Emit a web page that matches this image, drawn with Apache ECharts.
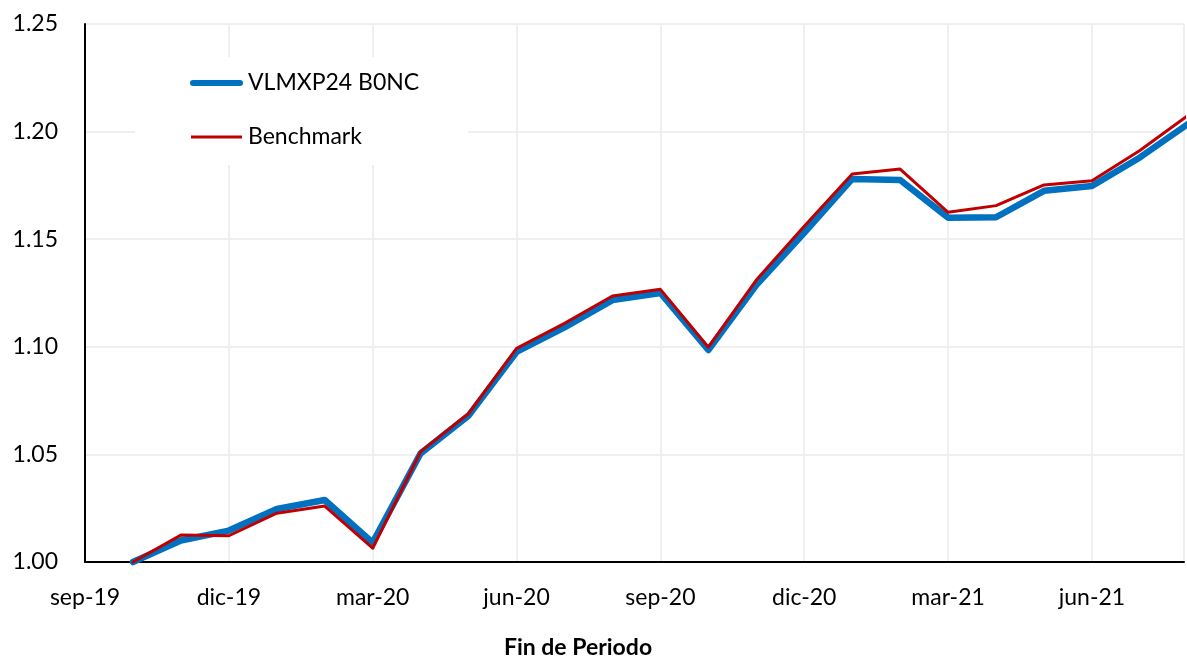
<!DOCTYPE html>
<html>
<head>
<meta charset="utf-8">
<script src="https://cdn.jsdelivr.net/npm/echarts@6/dist/echarts.min.js"></script>
<style>
  html, body { margin: 0; padding: 0; background: #fff; }
  #chart { width: 1187px; height: 659px; }
</style>
</head>
<body>
<div id="chart"></div>
<script>
// Month labels (index 0 = sep-19), values at month end
const months = ['sep-19','oct-19','nov-19','dic-19','ene-20','feb-20','mar-20','abr-20','may-20','jun-20','jul-20','ago-20',
                'sep-20','oct-20','nov-20','dic-20','ene-21','feb-21','mar-21','abr-21','may-21','jun-21','jul-21','ago-21'];
const fundName = 'VLMXP24 B0NC';
const benchName = 'Benchmark';
const fundValues  = [null, 1.000, 1.010, 1.0146, 1.0246, 1.0288, 1.009, 1.0505, 1.068, 1.0976, 1.109, 1.1217, 1.125,
                     1.0985, 1.1287, 1.153, 1.178, 1.1775, 1.160, 1.1602, 1.1725, 1.1747, 1.188, 1.2035];
const benchValues = [null, 1.000, 1.0125, 1.0122, 1.0227, 1.026, 1.0064, 1.0513, 1.069, 1.0993, 1.1109, 1.1236, 1.1267,
                     1.0998, 1.131, 1.156, 1.1803, 1.1826, 1.1625, 1.1656, 1.1752, 1.1772, 1.1912, 1.2075];
const yTicks = [1.00, 1.05, 1.10, 1.15, 1.20, 1.25];

const toPairs = arr => arr.map((v, i) => [i, v]).filter(p => p[1] !== null);
const font = 'Lato, Carlito, "Open Sans", sans-serif';

// legend icons: bounding box 53x14 kept by the leading moveTo points
const blueIcon = 'path://M0,0 M53,14 M3,4 L50,4 A3,3 0 0 1 50,10 L3,10 A3,3 0 0 1 3,4 Z';
const redIcon  = 'path://M0,0 M53,14 M1,5.5 L52,5.5 L52,8.5 L1,8.5 Z';

const chart = echarts.init(document.getElementById('chart'), null, { renderer: 'canvas' });
chart.setOption({
  backgroundColor: '#ffffff',
  animation: false,
  textStyle: { fontFamily: font },
  grid: { left: 85, width: 1105, top: 24, bottom: 97, containLabel: false },
  legend: {
    orient: 'vertical',
    left: 135,
    top: 57,
    padding: [14, 49, 16, 55],
    backgroundColor: '#ffffff',
    itemWidth: 53,
    itemHeight: 14,
    itemGap: 30,
    data: [
      { name: fundName, icon: blueIcon, itemStyle: { color: '#0070C0', borderWidth: 0 } },
      { name: benchName, icon: redIcon, itemStyle: { color: '#C00000', borderWidth: 0 } }
    ],
    textStyle: { fontFamily: font, fontSize: 23, color: '#000', lineHeight: 24 }
  },
  xAxis: {
    type: 'value',
    min: 0,
    max: 22.92,
    interval: 3,
    axisLine: { show: true, lineStyle: { color: '#000', width: 2 } },
    axisTick: { show: false },
    splitLine: { show: true, lineStyle: { color: '#EFEFEF', width: 2 } },
    axisLabel: {
      margin: 24,
      fontSize: 23,
      color: '#000',
      fontFamily: font,
      formatter: v => (Math.abs(v - Math.round(v)) < 1e-6 && Math.round(v) % 3 === 0) ? (months[Math.round(v)] || '') : ''
    }
  },
  yAxis: {
    type: 'value',
    min: yTicks[0],
    max: yTicks[yTicks.length - 1],
    interval: 0.05,
    axisLine: { show: true, lineStyle: { color: '#000', width: 2 } },
    axisTick: { show: false },
    splitLine: { show: true, lineStyle: { color: '#EFEFEF', width: 2 } },
    axisLabel: {
      margin: 27,
      fontSize: 23,
      color: '#000',
      fontFamily: font,
      formatter: v => v.toFixed(2)
    }
  },
  graphic: [{
    type: 'text',
    x: 578,
    y: 648,
    style: { text: 'Fin de Periodo', font: 'bold 23px ' + font, fill: '#000', align: 'center', verticalAlign: 'middle' }
  }],
  series: [
    {
      name: fundName,
      type: 'line',
      data: toPairs(fundValues),
      symbol: 'none',
      clip: false,
      z: 2,
      itemStyle: { color: '#0070C0' },
      lineStyle: { color: '#0070C0', width: 6.5, cap: 'round', join: 'round' }
    },
    {
      name: benchName,
      type: 'line',
      data: toPairs(benchValues),
      symbol: 'none',
      clip: false,
      z: 3,
      itemStyle: { color: '#C00000' },
      lineStyle: { color: '#C00000', width: 3, cap: 'round', join: 'round' }
    }
  ]
});
</script>
</body>
</html>
